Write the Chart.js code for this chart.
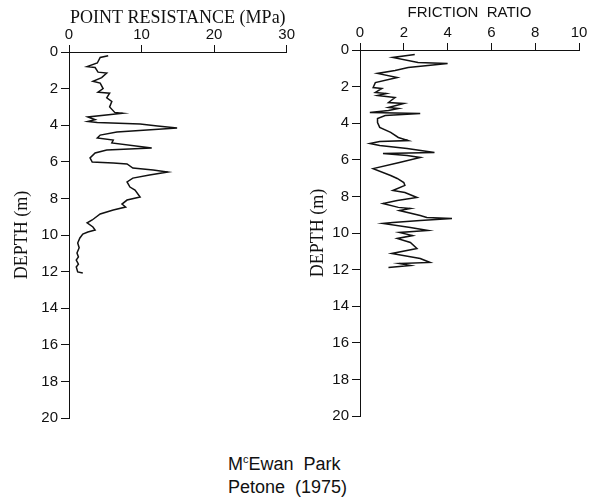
<!DOCTYPE html>
<html>
<head>
<meta charset="utf-8">
<script src="https://cdn.jsdelivr.net/npm/chart.js@4.4.1/dist/chart.umd.min.js"></script>
<style>
  body { margin: 0; background: #fff; width: 598px; height: 502px; position: relative; overflow: hidden; }
  #resistChart { position: absolute; left: 0; top: 0; }
  #frictionChart { position: absolute; left: 296px; top: 0; }
  .caption { position: absolute; left: 228px; top: 453px; font-family: "Liberation Sans", sans-serif; font-size: 18px; line-height: 23px; color: #111; white-space: pre; }
  .caption sup { font-size: 11px; vertical-align: 7px; line-height: 0; }
</style>
</head>
<body>
<canvas id="resistChart" width="296" height="440"></canvas>
<canvas id="frictionChart" width="300" height="440"></canvas>
<div class="caption">M<sup>c</sup>Ewan  Park
Petone  (1975)</div>
<script>
// depth ticks shared by both panels
const depthTicks = [0, 2, 4, 6, 8, 10, 12, 14, 16, 18, 20];
const resistTicks = [0, 10, 20, 30];
const frictionTicks = [0, 2, 4, 6, 8, 10];

// point resistance (MPa) vs depth (m)
const resistDepth = [0.2, 0.3, 0.6, 0.8, 0.85, 1.1, 1.15, 1.4, 1.6, 1.7, 2.0, 2.2, 2.25, 2.5, 2.7, 3.0, 3.3, 3.35,
  3.55, 3.7, 3.8, 3.85, 3.93, 4.04, 4.15, 4.37, 4.54, 4.7, 4.81, 4.97, 5.25, 5.36, 5.52, 5.79, 6.01, 6.07, 6.12,
  6.34, 6.45, 6.56, 6.72, 6.89, 7.1, 7.38, 7.54, 7.92, 8.09, 8.31, 8.47, 8.63, 8.85, 9.18, 9.34, 9.56, 9.73, 9.84,
  9.95, 10.16, 10.44, 10.7, 10.98, 11.2, 11.37, 11.6, 11.75, 12.02, 12.08];
const resistValue = [5.4, 4.3, 3.9, 2.5, 3.6, 4.0, 5.2, 4.5, 3.3, 4.3, 4.7, 4.0, 5.6, 5.2, 5.9, 5.6, 6.3, 7.4,
  2.6, 3.6, 2.6, 3.9, 9.8, 12.2, 14.9, 6.6, 4.3, 3.9, 6.1, 5.9, 11.4, 5.2, 3.6, 2.9, 3.2, 6.1, 8.0,
  8.8, 11.6, 13.6, 11.1, 8.8, 8.0, 8.4, 9.1, 9.8, 8.0, 7.3, 7.8, 6.1, 4.3, 3.2, 2.5, 3.3, 3.6, 2.6,
  1.9, 1.5, 1.2, 1.4, 1.1, 1.3, 1.0, 1.3, 1.0, 1.2, 1.9];

// friction ratio vs depth (m)
const frictionDepth = [0.25, 0.41, 0.68, 0.74, 0.96, 1.12, 1.28, 1.5, 1.78, 2.05, 2.1, 2.32, 2.38, 2.49, 2.6, 2.87,
  2.92, 3.14, 3.2, 3.3, 3.42, 3.47, 3.58, 3.74, 3.96, 4.23, 4.5, 4.78, 4.95, 5.0, 5.11, 5.22, 5.38, 5.6, 5.66, 5.77,
  5.87, 6.15, 6.48, 6.86, 7.02, 7.24, 7.4, 7.68, 7.79, 8.06, 8.22, 8.39, 8.6, 8.66, 8.77, 9.04, 9.15, 9.21, 9.32,
  9.43, 9.48, 9.7, 9.86, 9.97, 10.14, 10.3, 10.52, 10.85, 11.12, 11.39, 11.61, 11.67, 11.78, 11.89];
const frictionValue = [2.5, 1.5, 2.65, 4.0, 2.2, 1.6, 0.8, 1.7, 0.7, 0.6, 1.0, 0.7, 1.2, 0.8, 1.6, 1.3,
  2.0, 1.3, 1.75, 1.3, 0.45, 2.75, 1.15, 0.8, 0.8, 0.9, 1.4, 1.75, 2.2, 0.9, 0.45, 0.9, 2.15, 3.4, 1.05, 2.15,
  2.75, 1.8, 0.6, 1.4, 1.7, 2.0, 2.05, 1.5, 2.05, 2.6, 1.7, 1.05, 1.75, 2.3, 1.8, 2.75, 3.05, 4.2, 2.75,
  1.5, 1.05, 2.3, 3.1, 1.8, 2.4, 1.7, 2.3, 2.6, 1.45, 2.75, 3.2, 1.8, 2.3, 1.3];

const ink = '#111';

function makePanel(id, values, depths, xTicks, xMax, opt) {
  const points = values.map((v, i) => ({ x: v, y: depths[i] }));
  return new Chart(document.getElementById(id), {
    type: 'scatter',
    data: {
      datasets: [{
        data: points,
        showLine: true,
        borderColor: ink,
        borderWidth: 1.5,
        pointRadius: 0,
        tension: 0
      }]
    },
    options: {
      responsive: false,
      animation: false,
      layout: { padding: { left: 0, top: 0, right: opt.padRight, bottom: opt.padBottom } },
      plugins: { legend: { display: false }, tooltip: { enabled: false } },
      scales: {
        x: {
          type: 'linear',
          position: 'top',
          min: 0,
          max: xMax,
          afterBuildTicks: s => { s.ticks = xTicks.map(v => ({ value: v })); },
          afterFit: s => { s.height = opt.topHeight; },
          grid: { drawOnChartArea: false, drawTicks: true, tickLength: 7, color: ink },
          border: { display: true, color: ink, width: 1 },
          ticks: { color: ink, padding: 1, font: { family: 'Liberation Sans', size: 15 } },
          title: {
            display: true,
            text: opt.title,
            color: ink,
            padding: { top: opt.titleTop, bottom: 0 },
            font: { family: opt.titleFont, size: opt.titleSize }
          }
        },
        y: {
          type: 'linear',
          reverse: true,
          min: 0,
          max: 20,
          afterBuildTicks: s => { s.ticks = depthTicks.map(v => ({ value: v })); },
          afterFit: s => { s.width = opt.leftWidth; },
          grid: { drawOnChartArea: false, drawTicks: true, tickLength: 8, color: ink },
          border: { display: true, color: ink, width: 1 },
          ticks: { color: ink, padding: 3, font: { family: 'Liberation Sans', size: 15 } },
          title: {
            display: true,
            text: 'DEPTH (m)',
            color: ink,
            padding: { top: 11, bottom: 0 },
            font: { family: 'Liberation Serif', size: 18 }
          }
        }
      }
    }
  });
}

makePanel('resistChart', resistValue, resistDepth, resistTicks, 30, {
  title: 'POINT RESISTANCE (MPa)', titleFont: 'Liberation Serif', titleSize: 18, titleTop: 7,
  topHeight: 52, leftWidth: 69, padRight: 9, padBottom: 22
});

makePanel('frictionChart', frictionValue, frictionDepth, frictionTicks, 10, {
  title: 'FRICTION  RATIO', titleFont: 'Liberation Sans', titleSize: 15, titleTop: 4,
  topHeight: 50, leftWidth: 64, padRight: 17, padBottom: 24
});
</script>
</body>
</html>
